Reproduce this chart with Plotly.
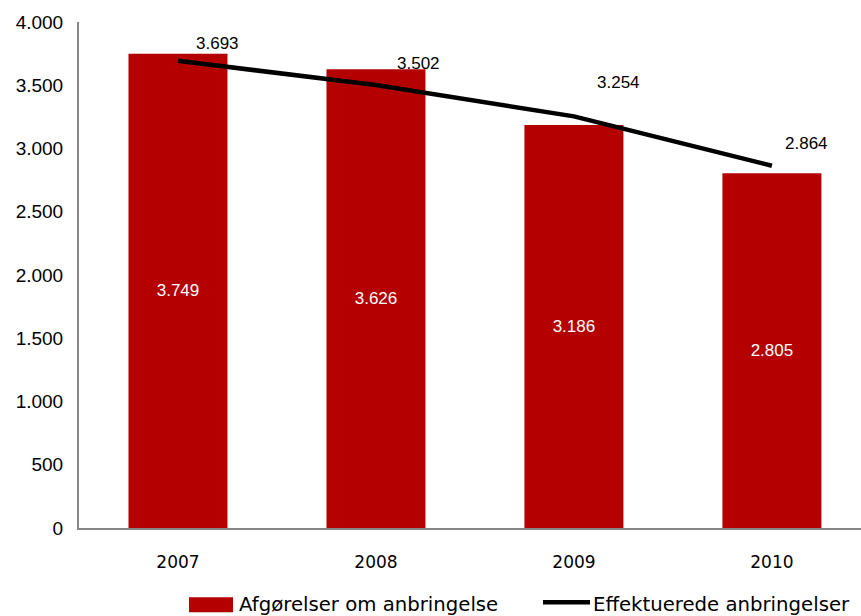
import plotly.graph_objects as go

years = ["2007", "2008", "2009", "2010"]
afgorelser = [3749, 3626, 3186, 2805]
effektuerede = [3693, 3502, 3254, 2864]
y_ticks = [0, 500, 1000, 1500, 2000, 2500, 3000, 3500, 4000]
y_tick_text = ["0", "500", "1.000", "1.500", "2.000", "2.500", "3.000", "3.500", "4.000"]

def fmt(v):
    return f"{v:,}".replace(",", ".")

RED = "#B50000"
W, H = 861, 616
ML, MR, MT, MB = 79, 0, 21.5, 87.5
PW, PH = W - ML - MR, H - MT - MB

def px_x(px):
    return (px - ML) / PW

def px_y(py):
    return (H - MB - py) / PH

fig = go.Figure()
fig.add_trace(go.Bar(
    x=years, y=afgorelser, name="Afgørelser om anbringelse",
    marker=dict(color=RED, line=dict(width=0)), width=0.5,
    text=[fmt(v) for v in afgorelser], textposition="inside",
    insidetextanchor="middle",
    textfont=dict(color="white", size=17, family="Liberation Sans, Arial"),
    showlegend=False,
))
fig.add_trace(go.Scatter(
    x=years, y=effektuerede, name="Effektuerede anbringelser",
    mode="lines", line=dict(color="black", width=4.5),
    showlegend=False,
))

offsets = [(40, 17), (43, 22), (45, 34), (35, 22)]
for i, (v, (dx, dy)) in enumerate(zip(effektuerede, offsets)):
    fig.add_annotation(x=i, y=v, text=fmt(v), showarrow=False,
                       xshift=dx, yshift=dy,
                       font=dict(size=17, color="black", family="Liberation Sans, Arial"))

# custom legend
fig.add_shape(type="rect", xref="paper", yref="paper",
              x0=px_x(189), x1=px_x(233), y0=px_y(613), y1=px_y(598),
              fillcolor=RED, line=dict(width=0))
fig.add_annotation(xref="paper", yref="paper", x=px_x(237), y=px_y(605),
                   xanchor="left", yanchor="middle", showarrow=False,
                   text="Afgørelser om anbringelse",
                   font=dict(size=19.7, color="black", family="DejaVu Sans"))
fig.add_shape(type="line", xref="paper", yref="paper",
              x0=px_x(543), x1=px_x(590), y0=px_y(603), y1=px_y(603),
              line=dict(color="black", width=4.5))
fig.add_annotation(xref="paper", yref="paper", x=px_x(591), y=px_y(605),
                   xanchor="left", yanchor="middle", showarrow=False,
                   text="Effektuerede anbringelser",
                   font=dict(size=19.7, color="black", family="DejaVu Sans"))

fig.update_layout(
    width=W, height=H,
    margin=dict(l=ML, r=MR, t=MT, b=MB, autoexpand=False),
    plot_bgcolor="white", paper_bgcolor="white",
    bargap=0.5, showlegend=False,
)
fig.update_xaxes(
    type="category", range=[-0.5, 3.45],
    showline=True, linecolor="#868686", linewidth=2,
    showgrid=False, ticks="", ticklabelstandoff=18,
    tickfont=dict(size=17, color="black", family="DejaVu Sans"),
)
fig.update_yaxes(
    range=[0, 4000], tickvals=y_ticks, ticktext=y_tick_text,
    showline=True, linecolor="#868686", linewidth=2,
    showgrid=False, zeroline=False, ticks="", ticklabelstandoff=10,
    tickfont=dict(size=19, color="black", family="Liberation Sans, Arial"),
)

fig.write_html("out.html", config={"displayModeBar": False},
               post_script="document.body.style.margin='0';document.body.style.overflow='hidden';")
